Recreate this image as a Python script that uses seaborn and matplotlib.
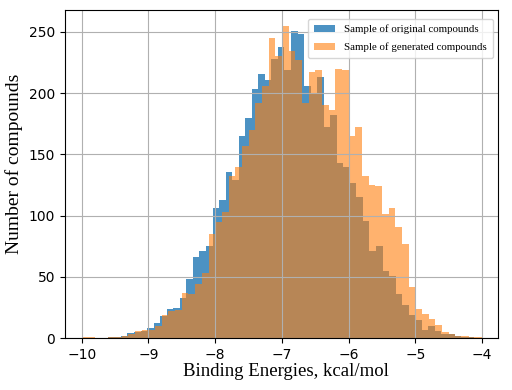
import numpy as np
import pandas as pd
import matplotlib
matplotlib.use("Agg")
import matplotlib.pyplot as plt
import seaborn as sns

# histogram counts, 60 bins each
n_bins = 60
original_range = (-10.0, -4.12)
generated_range = (-10.0, -4.0)

original_counts = [0, 0, 0, 0, 1, 1, 2, 4, 5, 6,
                   8, 12, 18, 24, 25, 33, 48, 66, 71, 75,
                   106, 113, 136, 129, 165, 180, 203, 216, 211, 228,
                   238, 219, 251, 248, 206, 200, 213, 172, 182, 143,
                   140, 127, 115, 96, 71, 75, 55, 51, 36, 27,
                   19, 15, 7, 10, 6, 3, 3, 2, 1, 1]

generated_counts = [1, 1, 0, 0, 1, 1, 2, 3, 6, 7,
                    7, 10, 19, 22, 23, 37, 36, 44, 53, 85,
                    95, 103, 132, 140, 157, 170, 192, 206, 245, 230,
                    255, 234, 227, 192, 217, 219, 190, 186, 220, 219,
                    165, 172, 132, 125, 124, 101, 106, 91, 77, 42,
                    24, 20, 16, 11, 5, 3, 2, 2, 1, 1]

labels = ["Sample of original compounds", "Sample of generated compounds"]

fig, ax = plt.subplots(figsize=(5.12, 3.9), dpi=100)
fig.subplots_adjust(left=0.127, right=0.973, bottom=0.133, top=0.974)

series = [(original_counts, original_range, "C0", 0.8, labels[0]),
          (generated_counts, generated_range, "C1", 0.6, labels[1])]

for counts, rng, color, alpha, label in series:
    edges = np.linspace(rng[0], rng[1], n_bins + 1)
    df = pd.DataFrame({"energy": (edges[:-1] + edges[1:]) / 2, "count": counts})
    sns.histplot(data=df, x="energy", weights="count", bins=list(edges),
                 color=color, alpha=alpha, linewidth=0, label=label, ax=ax)

ax.set_xlim(-10.25, -3.76)
ax.set_ylim(0, 267.75)
ax.set_xticks(range(-10, -3))
ax.set_yticks(range(0, 251, 50))
ax.grid(True)

serif = "Liberation Serif"
ax.set_xlabel("Binding Energies, kcal/mol", family=serif, fontsize=13.5)
ax.set_ylabel("Number of compounds", family=serif, fontsize=14)
ax.xaxis.set_label_coords(0.51, -0.075)
ax.yaxis.set_label_coords(-0.097, 0.53)
ax.legend(loc="upper right", bbox_to_anchor=(1.0, 0.99),
          prop={"family": serif, "size": 7.8}, labelspacing=0.75, borderpad=0.55)

fig.savefig("out.png", dpi=100)
plt.close()
